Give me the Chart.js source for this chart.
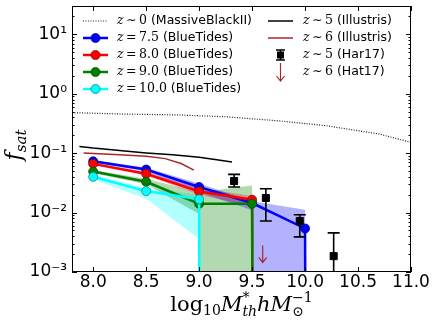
<!DOCTYPE html>
<html>
<head>
<meta charset="utf-8">
<script src="https://cdn.jsdelivr.net/npm/chart.js@4.4.1/dist/chart.umd.min.js"></script>
<style>
  html, body { margin: 0; padding: 0; background: #fff; }
</style>
</head>
<body>
<canvas id="chart" width="436" height="327"></canvas>
<script>
// ==== BlueTides satellite fractions ====
const btMass  = [8.0, 8.5, 9.0, 9.5, 10.0, 10.5];
const bt75    = [0.073, 0.053, 0.027, 0.0145, 0.0054, 0];
const bt75Hi  = [0.077, 0.057, 0.031, 0.0155, 0.0112, 0];
const bt75Lo  = [0.069, 0.049, 0.022, 0.0110, 0, 0];
const bt80    = [0.066, 0.045, 0.0227, 0.0165, 0];
const bt80Hi  = [0.069, 0.048, 0.026, 0.019, 0];
const bt80Lo  = [0.063, 0.042, 0.020, 0.0125, 0];
const bt90    = [0.049, 0.033, 0.0141, 0.0141, 0];
const bt90Hi  = [0.052, 0.037, 0.022, 0.0286, 0];
const bt90Lo  = [0.046, 0.030, 0.0095, 0, 0];
const bt100   = [0.040, 0.023, 0.0167, 0];
const bt100Hi = [0.043, 0.026, 0.020, 0];
const bt100Lo = [0.036, 0.0171, 0.0036, 0];

// ==== MassiveBlackII z~0 ====
const mbMass = [7.8, 8.3, 8.8, 9.25, 9.75, 10.2, 10.7, 11.0];
const mbFrac = [0.48, 0.455, 0.44, 0.41, 0.35, 0.29, 0.21, 0.152];

// ==== Illustris ====
const il5Mass = [7.87, 8.0, 8.25, 8.5, 8.75, 9.0, 9.15, 9.31];
const il5Frac = [0.130, 0.122, 0.111, 0.101, 0.094, 0.085, 0.078, 0.071];
const il6Mass = [7.91, 8.05, 8.25, 8.5, 8.68, 8.83, 8.95];
const il6Frac = [0.101, 0.098, 0.094, 0.089, 0.081, 0.067, 0.052];

// ==== observations ====
const harMass = [9.33, 9.63, 9.95, 10.27];
const harFrac = [0.034, 0.0176, 0.0072, 0.00185];
const harHi   = [0.044, 0.0252, 0.0092, 0.00455];
const harLo   = [0.0269, 0.0072, 0.0039, 0];
const hatMass = [9.6];
const hatFrac = [0.0028];   // upper limit

// ==== axes ====
const xTicks = [8.0, 8.5, 9.0, 9.5, 10.0, 10.5, 11.0];
const xTickLabels = ['8.0', '8.5', '9.0', '9.5', '10.0', '10.5', '11.0'];
const yTicks = [1e-3, 1e-2, 1e-1, 1, 10];
const yTickLabels = ['10\u207B\u00B3', '10\u207B\u00B2', '10\u207B\u00B9', '10\u2070', '10\u00B9'];

// log axis can't show 0, so push zeros far below (matplotlib clips them the same way)
const onLog = v => (v > 0 ? v : 1e-300);
const pts = (xs, ys) => ys.map((v, i) => ({ x: xs[i], y: onLog(v) }));

const blueTides = [
  { z: '7.5',  vals: bt75,  hi: bt75Hi,  lo: bt75Lo,  color: '#0000ff', edge: '#00008b', band: 'rgba(0,0,255,0.3)',   order: 4 },
  { z: '8.0',  vals: bt80,  hi: bt80Hi,  lo: bt80Lo,  color: '#ff0000', edge: '#8b0000', band: 'rgba(255,0,0,0.3)',   order: 3 },
  { z: '9.0',  vals: bt90,  hi: bt90Hi,  lo: bt90Lo,  color: '#008000', edge: '#004d00', band: 'rgba(0,128,0,0.3)',   order: 2 },
  { z: '10.0', vals: bt100, hi: bt100Hi, lo: bt100Lo, color: '#00ffff', edge: '#008b8b', band: 'rgba(0,255,255,0.3)', order: 1 }
];
const brown = '#a52a2a';

const datasets = [];
blueTides.forEach(s => {
  datasets.push({ data: pts(btMass, s.hi), showLine: true, fill: '+1', backgroundColor: s.band,
    borderColor: 'transparent', borderWidth: 0, pointRadius: 0, order: 10 });
  datasets.push({ data: pts(btMass, s.lo), showLine: true, fill: false,
    borderColor: 'transparent', borderWidth: 0, pointRadius: 0, order: 10 });
});
blueTides.forEach(s => {
  datasets.push({
    data: pts(btMass, s.vals), showLine: true, fill: false, clip: 0,
    borderColor: s.color, borderWidth: 2.5,
    pointRadius: c => (s.vals[c.dataIndex] > 0 ? 4.5 : 0),
    pointBackgroundColor: s.color, pointBorderColor: s.edge, pointBorderWidth: 0.8,
    order: s.order
  });
});
datasets.push({ data: pts(mbMass, mbFrac), showLine: true, borderColor: '#222', borderWidth: 1.2,
  borderDash: [1, 1.5], pointRadius: 0, order: 6, clip: 0 });
datasets.push({ data: pts(il5Mass, il5Frac), showLine: true, borderColor: '#000', borderWidth: 1.5,
  pointRadius: 0, order: 5 });
datasets.push({ data: pts(il6Mass, il6Frac), showLine: true, borderColor: brown, borderWidth: 1.5,
  pointRadius: 0, order: 5 });
datasets.push({ data: pts(harMass, harFrac), showLine: false, pointStyle: 'rect', pointRadius: 5,
  backgroundColor: '#000', borderColor: '#000', order: 0 });

// --- rich text: parts {t, f, dy, stack}
function rich(ctx, parts, x, y, draw = true) {
  let cx = x, pend = 0;
  for (const p of parts) {
    ctx.font = p.f;
    const w = ctx.measureText(p.t).width;
    if (draw) ctx.fillText(p.t, cx, y + (p.dy || 0));
    if (p.stack) { pend = w; continue; }
    cx += Math.max(w, pend); pend = 0;
  }
  return cx - x;
}

const SER = '"DejaVu Serif"', SANS = '"DejaVu Sans"';

function legendLabel(zSym, zVal, name) {
  return [
    { t: 'z', f: 'italic 12.5px ' + SER },
    { t: '\u2009' + zSym + '\u2009', f: '12.5px ' + SER },
    { t: zVal, f: '12.5px ' + SER },
    { t: ' ' + name, f: '12.5px ' + SANS }
  ];
}

const decor = {
  id: 'decor',
  afterDatasetsDraw(chart) {
    const { ctx, chartArea: a, scales: { x, y } } = chart;
    ctx.save();
    ctx.beginPath();
    ctx.rect(a.left, a.top, a.right - a.left, a.bottom - a.top);
    ctx.clip();
    // Har17 error bars
    ctx.strokeStyle = '#000';
    ctx.lineWidth = 1.6;
    harMass.forEach((m, i) => {
      const px = x.getPixelForValue(m);
      const top = y.getPixelForValue(harHi[i]);
      const bot = Math.min(y.getPixelForValue(onLog(harLo[i])), a.bottom + 5);
      ctx.beginPath();
      ctx.moveTo(px, top); ctx.lineTo(px, bot);
      ctx.moveTo(px - 6, top); ctx.lineTo(px + 6, top);
      if (bot < a.bottom) { ctx.moveTo(px - 6, bot); ctx.lineTo(px + 6, bot); }
      ctx.stroke();
    });
    // Hat17 upper limit arrows
    ctx.strokeStyle = brown;
    ctx.lineWidth = 1.2;
    hatMass.forEach((m, i) => {
      const px = x.getPixelForValue(m);
      const py = y.getPixelForValue(hatFrac[i]);
      ctx.beginPath();
      ctx.moveTo(px, py); ctx.lineTo(px, py + 17);
      ctx.moveTo(px - 4, py + 12); ctx.lineTo(px, py + 17); ctx.lineTo(px + 4, py + 12);
      ctx.stroke();
    });
    ctx.restore();
  },
  afterDraw(chart) {
    const { ctx, chartArea: a, scales: { x, y } } = chart;
    ctx.save();
    // frame
    ctx.strokeStyle = '#000';
    ctx.lineWidth = 1;
    ctx.strokeRect(a.left + 0.5, a.top + 0.5, a.right - a.left - 1, a.bottom - a.top - 1);
    // inward ticks
    ctx.beginPath();
    for (let e = -3; e <= 1; e++) {
      for (let m = 1; m <= 9; m++) {
        const v = m * Math.pow(10, e);
        if (v < y.min || v > y.max) continue;
        const p = Math.round(y.getPixelForValue(v)) + 0.5;
        const len = m === 1 ? 5 : 2.5;
        ctx.moveTo(a.left, p); ctx.lineTo(a.left + len, p);
        ctx.moveTo(a.right, p); ctx.lineTo(a.right - len, p);
      }
    }
    xTicks.forEach(v => {
      const p = Math.round(x.getPixelForValue(v)) + 0.5;
      ctx.moveTo(p, a.bottom); ctx.lineTo(p, a.bottom - 5);
      ctx.moveTo(p, a.top); ctx.lineTo(p, a.top + 5);
    });
    ctx.stroke();

    // legend, left column
    ctx.fillStyle = '#000';
    ctx.textBaseline = 'middle';
    const rowY = [21, 38, 55, 72, 89];
    ctx.strokeStyle = '#222';
    ctx.lineWidth = 1.2;
    ctx.setLineDash([1, 1.5]);
    ctx.beginPath(); ctx.moveTo(83, rowY[0]); ctx.lineTo(108, rowY[0]); ctx.stroke();
    ctx.setLineDash([]);
    rich(ctx, legendLabel('\u223C', '0', '(MassiveBlackII)'), 117, rowY[0]);
    blueTides.forEach((s, i) => {
      const ry = rowY[i + 1];
      ctx.strokeStyle = s.color;
      ctx.lineWidth = 2.5;
      ctx.beginPath(); ctx.moveTo(83, ry); ctx.lineTo(108, ry); ctx.stroke();
      ctx.fillStyle = s.color;
      ctx.strokeStyle = s.edge;
      ctx.lineWidth = 0.8;
      ctx.beginPath(); ctx.arc(95.5, ry, 4.5, 0, Math.PI * 2); ctx.fill(); ctx.stroke();
      ctx.fillStyle = '#000';
      rich(ctx, legendLabel('=', s.z, '(BlueTides)'), 117, ry);
    });

    // legend, right column
    ctx.lineWidth = 1.5;
    ctx.strokeStyle = '#000';
    ctx.beginPath(); ctx.moveTo(268, rowY[0]); ctx.lineTo(293, rowY[0]); ctx.stroke();
    ctx.strokeStyle = brown;
    ctx.beginPath(); ctx.moveTo(268, rowY[1]); ctx.lineTo(293, rowY[1]); ctx.stroke();
    ctx.strokeStyle = '#000';
    ctx.lineWidth = 1.6;
    ctx.beginPath();
    ctx.moveTo(280.5, rowY[2] - 5); ctx.lineTo(280.5, rowY[2] + 5);
    ctx.moveTo(276, rowY[2] - 5); ctx.lineTo(285, rowY[2] - 5);
    ctx.moveTo(276, rowY[2] + 5); ctx.lineTo(285, rowY[2] + 5);
    ctx.stroke();
    ctx.fillRect(277, rowY[2] - 3.5, 7, 7);
    ctx.strokeStyle = brown;
    ctx.lineWidth = 1.2;
    ctx.beginPath();
    ctx.moveTo(280.5, rowY[3] - 9); ctx.lineTo(280.5, rowY[3] + 9);
    ctx.moveTo(276.5, rowY[3] + 4); ctx.lineTo(280.5, rowY[3] + 9); ctx.lineTo(284.5, rowY[3] + 4);
    ctx.stroke();
    rich(ctx, legendLabel('\u223C', '5', '(Illustris)'), 303, rowY[0]);
    rich(ctx, legendLabel('\u223C', '6', '(Illustris)'), 303, rowY[1]);
    rich(ctx, legendLabel('\u223C', '5', '(Har17)'), 303, rowY[2]);
    rich(ctx, legendLabel('\u223C', '6', '(Hat17)'), 303, rowY[3]);

    // x axis title
    ctx.textBaseline = 'alphabetic';
    const big = '21px ' + SER, bigIt = 'italic 21px ' + SER;
    const sm = '14px ' + SER, smIt = 'italic 14px ' + SER;
    const xt = [
      { t: 'log', f: big }, { t: '10', f: sm, dy: 4 },
      { t: 'M', f: bigIt }, { t: '*', f: sm, dy: -9, stack: true }, { t: 'th', f: smIt, dy: 5 },
      { t: 'h', f: bigIt }, { t: 'M', f: bigIt },
      { t: '\u22121', f: sm, dy: -9, stack: true }, { t: '\u2299', f: sm, dy: 5 }
    ];
    const cx = (a.left + a.right) / 2;
    const w = rich(ctx, xt, 0, 0, false);
    rich(ctx, xt, cx - w / 2, 311);

    // y axis title
    ctx.translate(15, 145);
    ctx.rotate(-Math.PI / 2);
    const yt = [{ t: 'f', f: 'italic 22px ' + SER }, { t: 'sat', f: 'italic 15px ' + SER, dy: 5 }];
    const wy = rich(ctx, yt, 0, 0, false);
    rich(ctx, yt, -wy / 2, 6);
    ctx.restore();
  }
};

new Chart(document.getElementById('chart'), {
  type: 'scatter',
  data: { datasets },
  plugins: [decor],
  options: {
    responsive: false,
    animation: false,
    events: [],
    devicePixelRatio: 1,
    layout: { padding: { top: 4, right: 25, left: 0, bottom: 0 } },
    plugins: { legend: { display: false }, tooltip: { enabled: false } },
    scales: {
      x: {
        type: 'linear', min: 7.8, max: 11.0,
        grid: { display: false, drawTicks: false },
        border: { display: false },
        afterBuildTicks: s => { s.ticks = xTicks.map(v => ({ value: v })); },
        ticks: {
          callback: (v, i) => xTickLabels[i],
          font: { family: 'DejaVu Sans', size: 17 }, color: '#000',
          padding: 0, maxRotation: 0, autoSkip: false
        },
        afterFit: s => { s.height = 55; s.paddingLeft = 0; s.paddingRight = 0; }
      },
      y: {
        type: 'logarithmic', min: 1e-3, max: 30,
        grid: { display: false, drawTicks: false },
        border: { display: false },
        afterBuildTicks: s => { s.ticks = yTicks.map(v => ({ value: v })); },
        ticks: {
          callback: (v, i) => yTickLabels[i],
          font: { family: 'DejaVu Sans', size: 17 }, color: '#000',
          padding: 5, autoSkip: false
        },
        afterFit: s => { s.width = 72; s.paddingTop = 0; s.paddingBottom = 0; }
      }
    }
  }
});
</script>
</body>
</html>
